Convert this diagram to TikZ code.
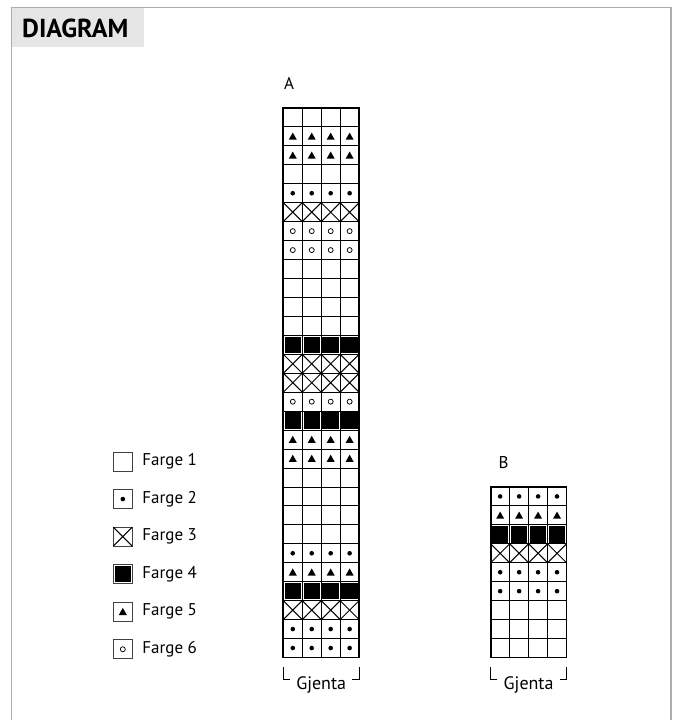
\documentclass[tikz,border=0pt]{standalone}
\usepackage{fontspec}
\setmainfont{PT Sans}
\usepackage{tikz}
\usetikzlibrary{positioning}
\usetikzlibrary{calc}

\definecolor{framegray}{HTML}{ADADAD}
\definecolor{headgray}{HTML}{E6E6E6}

\tikzset{
  gridline/.style={line width=0.9pt},
  gridframe/.style={line width=1.8pt},
  legendbox/.style={draw=black!75, line width=0.8pt, minimum size=19pt, inner sep=0pt},
  farge/.style={font=\fontsize{17}{20}\selectfont, inner sep=0pt},
}

% symbol of one cell: #1 colour number, (#2,#3) centre of the cell
\newcommand{\stitch}[3]{%
  \ifcase#1\or
  \or \fill (#2,#3) circle (2.3pt);
  \or \draw[line width=1pt] ({#2-9.5},{#3-9.5}) -- ({#2+9.5},{#3+9.5})
        ({#2-9.5},{#3+9.5}) -- ({#2+9.5},{#3-9.5});
  \or \fill ({#2-8.2},{#3-8.2}) rectangle ({#2+8.2},{#3+8.2});
  \or \fill ({#2-4},{#3+3.3}) -- ({#2+4},{#3+3.3}) -- (#2,{#3-3.8}) -- cycle;
  \or \draw[line width=0.75pt] (#2,#3) circle (2.5pt);
  \fi}

% one chart: #1 left edge, #2 number of rows, #3 colours from top to bottom
\newcommand{\drawchart}[3]{%
  \foreach \c [count=\i] in {#3} {
    \pgfmathsetmacro\cy{\bottom-(#2-\i+0.5)*\cell}
    \foreach \j in {1,...,4} {
      \pgfmathsetmacro\cx{#1+(\j-0.5)*\cell}
      \stitch{\c}{\cx}{\cy}
    }
  }
  \pgfmathtruncatemacro\lastrow{#2-1}
  \foreach \i in {1,...,\lastrow}
    \draw[gridline] (#1,{\bottom-\i*\cell}) -- ++({4*\cell},0);
  \foreach \j in {1,2,3}
    \draw[gridline] ({#1+\j*\cell},\bottom) -- ++(0,{-#2*\cell});
  \draw[gridframe] (#1,\bottom) rectangle ++({4*\cell},{-#2*\cell});
}

\begin{document}
\begin{tikzpicture}[x=1pt, y=-1pt]

        \useasboundingbox (0,0) rectangle (678,720);

        % Frame and heading
        \draw[framegray, line width=1.5pt] (11.5,720) -- (11.5,7.5) -- (671,7.5) -- (671,720);
        \fill[headgray] (12.3,8.3) rectangle (144,47);
        \node[anchor=base west, inner sep=0pt, font=\fontsize{26}{30}\selectfont\bfseries] (title) at (22,37) {DIAGRAM};

        % Cell size
        \def\cell{18.95}

        % Bottom edge of both charts
        \def\bottom{657.5}

        % Left edges of the charts
        \def\leftA{283.3}
        \def\leftB{490.7}

        % Chart A
        \drawchart{\leftA}{29}{1,5,5,1,2,3,6,6,1,1,1,1,4,3,3,6,4,5,5,1,1,1,1,2,5,4,3,2,2}
        \node[farge, anchor=base west] (labA) at (284,89) {A};

        % Chart B
        \drawchart{\leftB}{9}{2,5,4,3,2,2,1,1,1}
        \node[farge, anchor=base west] (labB) at (498.5,468) {B};

        % Repeat brackets under the charts
        \foreach \lft/\nm in {\leftA/A, \leftB/B} {
          \node[farge, font=\fontsize{18}{21}\selectfont, anchor=base] (gjenta\nm) at ({\lft+2*\cell},689) {Gjenta};
          \draw[line width=0.8pt] (\lft,667) -- (\lft,679) -- ++(6.7,0);
          \draw[line width=0.8pt] ({\lft+4*\cell},667) -- ({\lft+4*\cell},679) -- ++(-6.7,0);
        }

        % Legend
        \foreach \k in {1,...,6} {
          \pgfmathsetmacro\ly{461.5+(\k-1)*37.55}
          \node[legendbox] (leg\k) at (122.8,\ly) {};
          \stitch{\k}{122.8}{\ly}
          \node[farge, right=9.5pt of leg\k, anchor=west] (farge\k) {Farge \k};
        }

      \end{tikzpicture}
\end{document}
